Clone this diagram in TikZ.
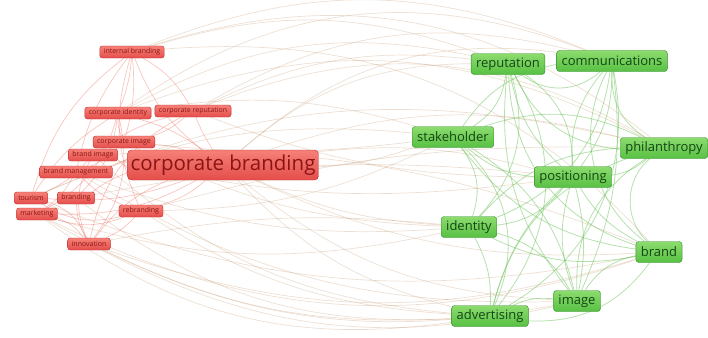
\documentclass[tikz,border=0pt]{standalone}
\usepackage{fontspec}
\setmainfont{Open Sans}
\usetikzlibrary{backgrounds}
\definecolor{rfill}{RGB}{228,78,74}
\definecolor{rtop}{RGB}{245,128,120}
\definecolor{rline}{RGB}{190,50,48}
\definecolor{rtext}{RGB}{140,20,20}
\definecolor{gfill}{RGB}{88,192,68}
\definecolor{gtop}{RGB}{140,220,110}
\definecolor{gline}{RGB}{55,140,45}
\definecolor{gtext}{RGB}{20,70,20}
\definecolor{redge}{RGB}{238,110,100}
\definecolor{gedge}{RGB}{110,195,90}
\definecolor{medge}{RGB}{195,150,110}
\tikzset{
  rbox/.style={draw=rline, rounded corners=2.5pt, top color=rtop, bottom color=rfill, text=rtext,
    font=\fontsize{7}{7}\selectfont, inner xsep=4pt, inner ysep=0pt, minimum height=12pt},
  gbox/.style={draw=gline, rounded corners=3pt, top color=gtop, bottom color=gfill, text=gtext,
    font=\fontsize{13}{14}\selectfont, inner xsep=5pt, inner ysep=0pt, minimum height=21pt},
  rl/.style={redge, line width=0.7pt, opacity=0.4},
  gl/.style={gedge, line width=0.8pt, opacity=0.5},
  ml/.style={medge, line width=0.7pt, opacity=0.3},
}
\begin{document}
\begin{tikzpicture}[x=1pt, y=-1pt]
\useasboundingbox (0,0) rectangle (708,337);
% red cluster
\node[rbox] (ib) at (132,52) {internal branding};
\node[rbox] (ci) at (118,113) {corporate identity};
\node[rbox] (cr) at (193,111) {corporate reputation};
\node[rbox] (cim) at (124,142) {corporate image};
\node[rbox] (bi) at (93,155) {brand image};
\node[rbox] (bm) at (76,172) {brand management};
\node[rbox] (tou) at (31,198) {tourism};
\node[rbox] (br) at (76,198) {branding};
\node[rbox] (mk) at (37,214) {marketing};
\node[rbox] (reb) at (141,211) {rebranding};
\node[rbox] (inn) at (89,244) {innovation};
\node[draw=rline, rounded corners=4pt, top color=rtop, bottom color=rfill, text=rtext,
  font=\fontsize{20.5}{22}\selectfont, inner xsep=3pt, inner ysep=0pt, minimum height=30pt]
  (cb) at (223,165) {corporate branding};
% green cluster
\node[gbox] (rep) at (508,64) {reputation};
\node[gbox] (com) at (612,61) {communications};
\node[gbox] (stk) at (453,137) {stakeholder};
\node[gbox] (phi) at (664,148) {philanthropy};
\node[gbox] (pos) at (573,177) {positioning};
\node[gbox] (idt) at (469,227) {identity};
\node[gbox] (bnd) at (659,252) {brand};
\node[gbox] (img) at (577,301) {image};
\node[gbox] (adv) at (490,316) {advertising};
% Links
\begin{scope}[on background layer]
\foreach \a/\b/\c in {cb/ib/15, cb/ci/-10, cb/cr/5, cb/cim/-8, cb/bi/6, cb/bm/-6, cb/tou/12,
  cb/br/-8, cb/mk/15, cb/reb/12, cb/inn/-15, ib/ci/8, ib/bm/-12, ib/tou/-18, ib/cim/10,
  ci/cim/-12, ci/mk/22, ci/br/18, ci/inn/25, ci/tou/-12, cr/cim/12, cr/bi/-10, cim/bm/10,
  bi/tou/12, bi/inn/-25, bm/mk/12, bm/reb/-12, tou/inn/25, br/inn/-12, mk/reb/-18,
  reb/inn/12, cr/inn/-25, mk/inn/18, tou/reb/-22, ib/cr/15, ib/reb/-20}
  \draw[rl] (\a) to[bend left=\c] (\b);
\foreach \a/\b/\c in {cb/rep/20, cb/com/24, cb/stk/-8, cb/pos/10, cb/phi/16, cb/idt/-10,
  cb/bnd/-14, cb/img/-18, cb/adv/-16, ib/com/22, ib/rep/18, ci/phi/24, ci/stk/12,
  cr/pos/-10, cr/rep/16, cim/idt/-12, cim/stk/-6, bi/adv/-18, bi/pos/-10, bm/img/-16,
  bm/idt/-12, tou/stk/14, tou/bnd/-16, br/adv/-20, br/pos/8, mk/idt/-14, mk/img/-20,
  reb/adv/-14, reb/stk/-12, inn/adv/-14, inn/bnd/-18, inn/idt/8, reb/phi/8, cr/com/22,
  ci/rep/20, bi/bnd/12, tou/phi/18, mk/adv/-22, ib/phi/28, ci/com/28, cr/phi/26,
  ib/bnd/26, inn/img/-20, mk/bnd/-22}
  \draw[ml] (\a) to[bend left=\c] (\b);
\foreach \a/\b/\c in {rep/com/-40, rep/stk/25, rep/pos/-18, rep/phi/-30, rep/idt/30,
  rep/bnd/-35, rep/img/-22, rep/adv/35, com/stk/-22, com/pos/18, com/phi/-30, com/idt/30,
  com/bnd/-40, com/img/15, com/adv/35, stk/pos/-18, stk/phi/22, stk/idt/28, stk/bnd/-22,
  stk/img/22, stk/adv/35, phi/pos/15, phi/idt/-22, phi/bnd/-50, phi/img/-30, phi/adv/-28,
  pos/idt/22, pos/bnd/-15, pos/img/12, pos/adv/-15, idt/bnd/-18, idt/img/22, idt/adv/15,
  bnd/img/-22, bnd/adv/28, img/adv/-15, pos/img/-18, com/pos/-22, rep/pos/28}
  \draw[gl] (\a) to[bend left=\c] (\b);
\end{scope}
\end{tikzpicture}
\end{document}
